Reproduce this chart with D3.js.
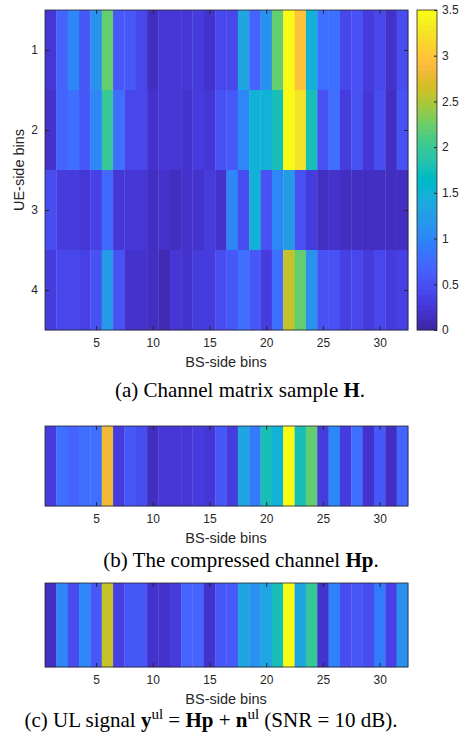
<!DOCTYPE html>
<html lang='en'>
<head>
  <meta charset='UTF-8'>
  <title>Channel heatmaps</title>
  <style>
    * { margin: 0; padding: 0; }
    body { background: #fff; }
    svg text { font-family: 'Liberation Sans', Arial, sans-serif; fill: #262626; }
    svg text.cap { font-family: 'Liberation Serif', 'Times New Roman', serif; fill: #000; }
  </style>
</head>
<body>
<script src='https://cdn.jsdelivr.net/npm/d3@7'></script>
<div id='chart'></div>
<script>
  // values (colour -> parula value)
  const H_ROW1 = [0.22, 0.7, 1.0, 0.6, 1.1, 2.2, 0.55, 0.55, 0.42, 0.12, 0.22, 0.25, 0.25, 0.3, 0.2, 0.42,
                  0.4, 1.35, 0.7, 1.1, 2.2, 3.45, 3.0, 1.5, 0.8, 0.8, 0.42, 0.52, 0.28, 0.42, 0.18, 0.45]
  const H_ROW2 = [0.2, 0.7, 0.8, 0.6, 1.0, 2.0, 0.8, 0.42, 0.42, 0.2, 0.25, 0.25, 0.2, 0.32, 0.22, 0.52,
                  0.6, 1.0, 1.5, 1.5, 1.75, 3.45, 3.25, 1.75, 0.52, 0.8, 0.32, 0.52, 0.22, 0.45, 0.15, 0.52]
  const H_ROW3 = [0.45, 0.32, 0.32, 0.22, 0.38, 0.72, 0.25, 0.25, 0.25, 0.15, 0.2, 0.15, 0.2, 0.2, 0.28, 0.18,
                  1.0, 0.45, 1.5, 0.52, 1.0, 1.25, 0.52, 0.32, 0.15, 0.18, 0.12, 0.14, 0.14, 0.15, 0.14, 0.15]
  const H_ROW4 = [0.32, 0.42, 0.42, 0.38, 0.52, 1.25, 0.52, 0.2, 0.2, 0.15, 0.1, 0.22, 0.18, 0.32, 0.28, 0.45,
                  0.55, 0.78, 0.6, 0.28, 0.8, 2.6, 2.2, 1.1, 0.52, 0.52, 0.38, 0.42, 0.28, 0.42, 0.28, 0.38]
  const HP = [0.28, 0.8, 0.68, 0.8, 0.8, 2.8, 0.28, 0.55, 0.45, 0.15, 0.22, 0.22, 0.22, 0.32, 0.25, 0.6,
              0.32, 1.35, 0.92, 1.75, 1.5, 3.5, 1.75, 2.2, 0.28, 1.0, 0.28, 0.78, 0.18, 0.6, 0.15, 0.7]
  const Y_UL = [0.15, 1.0, 0.45, 1.0, 0.6, 2.6, 0.38, 0.58, 0.58, 0.2, 0.2, 0.28, 0.68, 0.68, 0.18, 0.6,
                0.6, 1.35, 1.1, 1.35, 1.75, 3.5, 1.35, 2.0, 0.18, 0.95, 0.45, 0.55, 0.45, 0.92, 0.38, 1.1]
  const H = [H_ROW1, H_ROW2, H_ROW3, H_ROW4]

  const xTicks = [5, 10, 15, 20, 25, 30]
  const ueTicks = [1, 2, 3, 4]
  const cbTicks = [0, 0.5, 1, 1.5, 2, 2.5, 3, 3.5]
  const cMax = 3.5

  // MATLAB parula, 64 entries
  const PARULA = [
    [0.2422,0.1504,0.6603],[0.2504,0.1650,0.7076],[0.2578,0.1818,0.7511],[0.2647,0.1978,0.7952],
    [0.2706,0.2147,0.8364],[0.2751,0.2342,0.8710],[0.2783,0.2559,0.8991],[0.2803,0.2782,0.9221],
    [0.2813,0.3006,0.9414],[0.2810,0.3228,0.9579],[0.2795,0.3447,0.9717],[0.2760,0.3667,0.9829],
    [0.2699,0.3892,0.9906],[0.2602,0.4123,0.9952],[0.2440,0.4358,0.9988],[0.2206,0.4603,0.9973],
    [0.1963,0.4847,0.9892],[0.1834,0.5074,0.9798],[0.1786,0.5289,0.9682],[0.1764,0.5499,0.9520],
    [0.1687,0.5703,0.9359],[0.1540,0.5902,0.9218],[0.1460,0.6091,0.9079],[0.1380,0.6276,0.8973],
    [0.1248,0.6459,0.8883],[0.1113,0.6630,0.8763],[0.0952,0.6798,0.8598],[0.0689,0.6948,0.8394],
    [0.0297,0.7082,0.8163],[0.0036,0.7203,0.7917],[0.0067,0.7304,0.7660],[0.0433,0.7411,0.7394],
    [0.0964,0.7500,0.7120],[0.1408,0.7584,0.6842],[0.1717,0.7670,0.6554],[0.1938,0.7758,0.6251],
    [0.2161,0.7843,0.5923],[0.2470,0.7918,0.5567],[0.2906,0.7973,0.5188],[0.3406,0.8008,0.4789],
    [0.3909,0.8029,0.4354],[0.4456,0.8024,0.3909],[0.5044,0.7993,0.3480],[0.5616,0.7942,0.3045],
    [0.6174,0.7876,0.2612],[0.6720,0.7793,0.2227],[0.7242,0.7698,0.1910],[0.7738,0.7598,0.1646],
    [0.8203,0.7498,0.1535],[0.8634,0.7406,0.1596],[0.9035,0.7330,0.1774],[0.9393,0.7288,0.2100],
    [0.9728,0.7298,0.2394],[0.9956,0.7434,0.2371],[0.9970,0.7659,0.2199],[0.9952,0.7893,0.2028],
    [0.9892,0.8136,0.1885],[0.9786,0.8386,0.1766],[0.9676,0.8639,0.1643],[0.9610,0.8890,0.1537],
    [0.9597,0.9135,0.1423],[0.9628,0.9373,0.1265],[0.9691,0.9606,0.1064],[0.9769,0.9839,0.0805]
  ].map(c => d3.rgb(c[0] * 255, c[1] * 255, c[2] * 255).formatHex())

  const color = d3.scaleQuantize().domain([0, cMax]).range(PARULA)
  const fmt = d => String(d)

  let width = 461
  let height = 736
  let svg = d3.select('#chart')
    .append('svg')
    .attr('xmlns', 'http://www.w3.org/2000/svg')
    .attr('width', width)
    .attr('height', height)

  svg.append('rect').attr('width', width).attr('height', height).style('fill', '#fff')

  let x = d3.scaleLinear().domain([0.5, 32.5]).range([45, 408])

  // draws one imagesc panel; rows is an array of rows
  function panel (rows, top, bottom) {
    let y = d3.scaleLinear().domain([0.5, rows.length + 0.5]).range([top, bottom])
    let g = svg.append('g')
    rows.forEach((row, r) => {
      g.selectAll(null)
        .data(row)
        .enter()
        .append('rect')
        .attr('x', (d, i) => x(i + 0.5))
        .attr('y', y(r + 0.5))
        .attr('width', (d, i) => x(i + 1.5) - x(i + 0.5) + 0.3)
        .attr('height', y(r + 1.5) - y(r + 0.5) + 0.3)
        .attr('fill', d => color(d))
    })
    // box
    g.append('rect')
      .attr('x', x(0.5)).attr('y', top)
      .attr('width', x(32.5) - x(0.5)).attr('height', bottom - top)
      .attr('fill', 'none').attr('stroke', '#262626').attr('stroke-width', 0.8)
    // x ticks, inside at bottom and top
    let xb = g.append('g').attr('transform', 'translate(0,' + bottom + ')')
      .call(d3.axisBottom(x).tickValues(xTicks).tickFormat(fmt).tickSizeInner(-4).tickSizeOuter(0).tickPadding(8))
    xb.select('.domain').remove()
    xb.selectAll('line').attr('stroke', '#262626')
    xb.selectAll('text').attr('font-size', 12).attr('fill', '#262626')
      .style('font-family', "'Liberation Sans', Arial, sans-serif")
    let xt = g.append('g').attr('transform', 'translate(0,' + top + ')')
      .call(d3.axisTop(x).tickValues(xTicks).tickSizeInner(-4).tickSizeOuter(0).tickFormat(''))
    xt.select('.domain').remove()
    xt.selectAll('line').attr('stroke', '#262626')

    g.append('text')
      .attr('x', 226).attr('y', bottom + 37)
      .attr('text-anchor', 'middle').attr('font-size', 14.5)
      .text('BS-side bins')
    return y
  }

  // (a) channel matrix
  let ya = panel(H, 10, 330)
  let yl = svg.append('g').attr('transform', 'translate(45,0)')
    .call(d3.axisLeft(ya).tickValues(ueTicks).tickFormat(fmt).tickSizeInner(-4).tickSizeOuter(0).tickPadding(7))
  yl.select('.domain').remove()
  yl.selectAll('line').attr('stroke', '#262626')
  yl.selectAll('text').attr('font-size', 12).attr('fill', '#262626')
    .style('font-family', "'Liberation Sans', Arial, sans-serif")
  let yr = svg.append('g').attr('transform', 'translate(408,0)')
    .call(d3.axisRight(ya).tickValues(ueTicks).tickSizeInner(-4).tickSizeOuter(0).tickFormat(''))
  yr.select('.domain').remove()
  yr.selectAll('line').attr('stroke', '#262626')

  svg.append('text')
    .attr('transform', 'translate(24,170) rotate(-90)')
    .attr('text-anchor', 'middle').attr('font-size', 14.5)
    .text('UE-side bins')

  // colorbar
  let cb = d3.scaleLinear().domain([0, cMax]).range([330, 10])
  let cbx = 417, cbw = 20
  svg.append('g').selectAll('rect')
    .data(PARULA)
    .enter()
    .append('rect')
    .attr('x', cbx)
    .attr('y', (d, i) => cb((i + 1) * cMax / PARULA.length))
    .attr('width', cbw)
    .attr('height', (d, i) => cb(i * cMax / PARULA.length) - cb((i + 1) * cMax / PARULA.length) + 0.3)
    .attr('fill', d => d)
  svg.append('rect')
    .attr('x', cbx).attr('y', 10).attr('width', cbw).attr('height', 320)
    .attr('fill', 'none').attr('stroke', '#262626').attr('stroke-width', 0.8)
  let cba = svg.append('g').attr('transform', 'translate(' + (cbx + cbw) + ',0)')
    .call(d3.axisRight(cb).tickValues(cbTicks).tickFormat(fmt).tickSizeInner(-3).tickSizeOuter(0).tickPadding(5))
  cba.select('.domain').remove()
  cba.selectAll('line').attr('stroke', '#262626')
  cba.selectAll('text').attr('font-size', 12).attr('fill', '#262626')
    .style('font-family', "'Liberation Sans', Arial, sans-serif")

  // (b) and (c)
  panel([HP], 426, 506)
  panel([Y_UL], 583, 667)

  // captions
  function caption (cx, cy, parts) {
    let t = svg.append('text').attr('class', 'cap')
      .attr('x', cx).attr('y', cy).attr('text-anchor', 'middle').attr('font-size', 21)
    parts.forEach(p => {
      let s = t.append('tspan').text(p.t)
      if (p.b) s.attr('font-weight', 'bold')
      if (p.sup) s.attr('baseline-shift', 'super').attr('font-size', 15)
    })
  }
  caption(240, 397, [{t: '(a) Channel matrix sample '}, {t: 'H', b: true}, {t: '.'}])
  caption(241, 567, [{t: '(b) The compressed channel '}, {t: 'Hp', b: true}, {t: '.'}])
  caption(211, 727, [
    {t: '(c) UL signal '}, {t: 'y', b: true}, {t: 'ul', sup: true}, {t: ' = '},
    {t: 'Hp', b: true}, {t: ' + '}, {t: 'n', b: true}, {t: 'ul', sup: true},
    {t: ' (SNR = 10 dB).'}
  ])
</script>
</body>
</html>
